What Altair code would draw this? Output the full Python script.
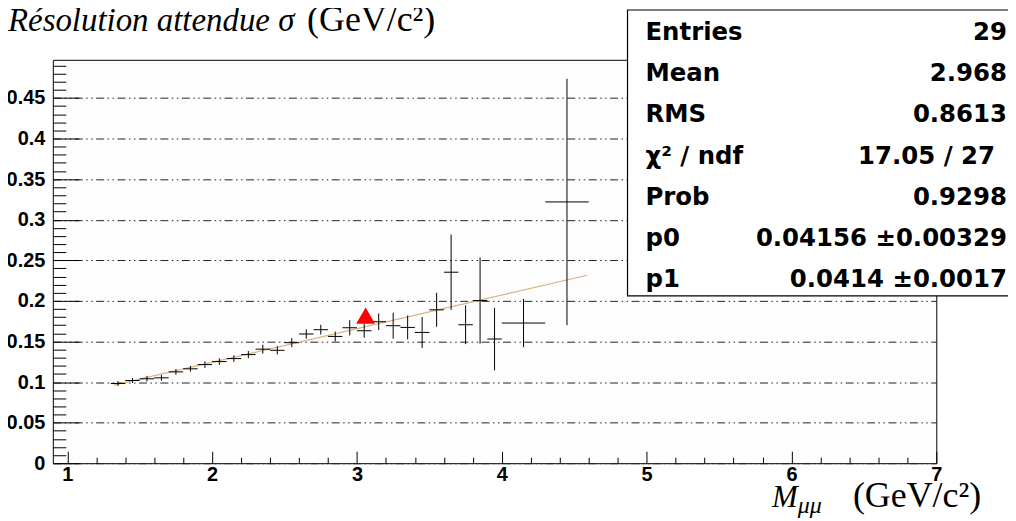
import altair as alt
import pandas as pd

# ---------------- data ----------------
x_center = [1.35, 1.45, 1.55, 1.65, 1.75, 1.85, 1.95, 2.05, 2.15, 2.25,
            2.35, 2.45, 2.55, 2.65, 2.75, 2.85, 2.95, 3.05, 3.15, 3.25,
            3.35, 3.45, 3.55, 3.65, 3.75, 3.85, 3.95, 4.15, 4.45]
x_half = [0.05, 0.05, 0.05, 0.05, 0.05, 0.05, 0.05, 0.05, 0.05, 0.05,
          0.05, 0.05, 0.05, 0.05, 0.05, 0.05, 0.05, 0.05, 0.05, 0.05,
          0.05, 0.05, 0.05, 0.05, 0.05, 0.05, 0.05, 0.15, 0.15]
y_value = [0.0982, 0.1019, 0.1040, 0.1052, 0.1125, 0.1163, 0.1215, 0.1252, 0.1289, 0.1338,
           0.1405, 0.1391, 0.1485, 0.1592, 0.1645, 0.1562, 0.1669, 0.1632, 0.1743, 0.1694,
           0.1673, 0.1611, 0.1890, 0.2353, 0.1706, 0.2004, 0.1530, 0.1727, 0.3219]
y_err = [0.0030, 0.0030, 0.0035, 0.0035, 0.0035, 0.0035, 0.0040, 0.0040, 0.0040, 0.0045,
         0.0055, 0.0050, 0.0055, 0.0057, 0.0060, 0.0060, 0.0094, 0.0086, 0.0102, 0.0160,
         0.0147, 0.0190, 0.0209, 0.0464, 0.0239, 0.0530, 0.0385, 0.0297, 0.1518]

fit_x = [1.32, 4.59]
fit_y = [0.0962, 0.2316]

marker_x = [3.06]
marker_y = [0.1819]

y_major = [0, 0.05, 0.1, 0.15, 0.2, 0.25, 0.3, 0.35, 0.4, 0.45]
y_minor = [0.01, 0.02, 0.03, 0.04, 0.06, 0.07, 0.08, 0.09, 0.11, 0.12, 0.13, 0.14,
           0.16, 0.17, 0.18, 0.19, 0.21, 0.22, 0.23, 0.24, 0.26, 0.27, 0.28, 0.29,
           0.31, 0.32, 0.33, 0.34, 0.36, 0.37, 0.38, 0.39, 0.41, 0.42, 0.43, 0.44,
           0.46, 0.47, 0.48, 0.49]
x_major = [1, 2, 3, 4, 5, 6, 7]
x_minor = [1.2, 1.4, 1.6, 1.8, 2.2, 2.4, 2.6, 2.8, 3.2, 3.4, 3.6, 3.8,
           4.2, 4.4, 4.6, 4.8, 5.2, 5.4, 5.6, 5.8, 6.2, 6.4, 6.6, 6.8]

stat_labels = ["Entries", "Mean", "RMS", "χ² / ndf", "Prob", "p0", "p1"]
stat_values = ["29", "2.968", "0.8613", "17.05 / 27", "0.9298",
               "0.04156 ±0.00329", "0.0414 ±0.0017"]

y_title_main = "Résolution attendue σ"
y_title_unit = "(GeV/c²)"
x_title_main = "M"
x_title_sub = "μμ"
x_title_unit = "(GeV/c²)"

# ---------------- layout ----------------
W, H = 887, 405
LABEL_FONT = "Liberation Sans"
SERIF = "Liberation Serif"
STAT_FONT = "DejaVu Sans"

df = pd.DataFrame({
    "x": x_center,
    "xlo": [c - h for c, h in zip(x_center, x_half)],
    "xhi": [c + h for c, h in zip(x_center, x_half)],
    "y": y_value,
    "ylo": [v - e for v, e in zip(y_value, y_err)],
    "yhi": [v + e for v, e in zip(y_value, y_err)],
})

xs = alt.Scale(domain=[0.9, 7], nice=False, zero=False)
ys = alt.Scale(domain=[0, 0.497], nice=False, zero=False)

x_axis_major = alt.Axis(values=x_major, format="~g", title=None, orient="bottom",
                        tickSize=12, offset=-12, domain=False, grid=False,
                        labelFont=LABEL_FONT, labelFontWeight="bold", labelFontSize=20,
                        labelColor="black", tickColor="black", labelPadding=1,
                        labelFlush=False, labelOverlap=False)
y_axis_major = alt.Axis(values=y_major, format="~g", title=None, orient="left",
                        tickSize=26, offset=-26, domain=False, grid=True,
                        gridColor="#222222", gridDash=[8, 3.5, 1.5, 3.5, 1.5, 3.5],
                        gridWidth=1, gridOpacity=1,
                        labelFont=LABEL_FONT, labelFontWeight="bold", labelFontSize=20,
                        labelColor="black", tickColor="black", labelPadding=8,
                        labelOverlap=False, labelFlush=False)
x_axis_minor = alt.Axis(values=x_minor, title=None, orient="bottom", labels=False,
                        tickSize=6, offset=-6, domain=False, grid=False,
                        tickColor="black")
y_axis_minor = alt.Axis(values=y_minor, title=None, orient="left", labels=False,
                        tickSize=13, offset=-13, domain=False, grid=False,
                        tickColor="black")

major_axes = alt.Chart(df).mark_point(opacity=0).encode(
    x=alt.X("x:Q", scale=xs, axis=x_axis_major),
    y=alt.Y("y:Q", scale=ys, axis=y_axis_major),
)
minor_axes = alt.Chart(df).mark_point(opacity=0).encode(
    x=alt.X("x:Q", scale=xs, axis=x_axis_minor),
    y=alt.Y("y:Q", scale=ys, axis=y_axis_minor),
)

vbars = alt.Chart(df).mark_rule(color="black", strokeWidth=1).encode(
    x=alt.X("x:Q", scale=xs, axis=None),
    y=alt.Y("ylo:Q", scale=ys, axis=None),
    y2="yhi:Q",
)
hbars = alt.Chart(df).mark_rule(color="black", strokeWidth=1).encode(
    x=alt.X("xlo:Q", scale=xs, axis=None),
    x2="xhi:Q",
    y=alt.Y("y:Q", scale=ys, axis=None),
)

fit = alt.Chart(pd.DataFrame({"x": fit_x, "y": fit_y})).mark_line(
    color="#d9b383", strokeWidth=1.2
).encode(
    x=alt.X("x:Q", scale=xs, axis=None),
    y=alt.Y("y:Q", scale=ys, axis=None),
)

marker = alt.Chart(pd.DataFrame({"x": marker_x, "y": marker_y})).mark_point(
    shape="triangle-up", filled=True, color="#ff0000", size=360, opacity=1
).encode(
    x=alt.X("x:Q", scale=xs, axis=None),
    y=alt.Y("y:Q", scale=ys, axis=None),
)

one = pd.DataFrame({"a": [0]})

stats_box = alt.Chart(one).mark_rect(
    fill="white", stroke="black", strokeWidth=1.2
).encode(
    x=alt.value(577), x2=alt.value(990), y=alt.value(-50), y2=alt.value(237)
)

layers = [major_axes, minor_axes, fit, vbars, hbars, marker, stats_box]

row_base = [-19.7, 21.6, 62.9, 104.2, 145.5, 186.8, 228.1]
val_right = [958, 958, 958, 946, 958, 958, 958]
for lab, val, b, r in zip(stat_labels, stat_values, row_base, val_right):
    layers.append(
        alt.Chart(pd.DataFrame({"t": [lab]})).mark_text(
            align="left", baseline="alphabetic", font=STAT_FONT, fontWeight="bold",
            fontSize=24.5, color="black"
        ).encode(x=alt.value(595), y=alt.value(b), text="t:N")
    )
    layers.append(
        alt.Chart(pd.DataFrame({"t": [val]})).mark_text(
            align="right", baseline="alphabetic", font=STAT_FONT, fontWeight="bold",
            fontSize=24.5, color="black"
        ).encode(x=alt.value(r), y=alt.value(b), text="t:N")
    )

# y title (top left)
layers.append(
    alt.Chart(pd.DataFrame({"t": [y_title_main]})).mark_text(
        align="left", baseline="alphabetic", font=SERIF, fontStyle="italic",
        fontSize=33, color="black"
    ).encode(x=alt.value(-45), y=alt.value(-29), text="t:N")
)
layers.append(
    alt.Chart(pd.DataFrame({"t": [y_title_unit]})).mark_text(
        align="right", baseline="alphabetic", font=SERIF,
        fontSize=36, color="black"
    ).encode(x=alt.value(384), y=alt.value(-29), text="t:N")
)
# x title (bottom right)
layers.append(
    alt.Chart(pd.DataFrame({"t": [x_title_main]})).mark_text(
        align="left", baseline="alphabetic", font=SERIF, fontStyle="italic",
        fontSize=31, color="black"
    ).encode(x=alt.value(722), y=alt.value(449), text="t:N")
)
layers.append(
    alt.Chart(pd.DataFrame({"t": [x_title_sub]})).mark_text(
        align="left", baseline="alphabetic", font=SERIF, fontStyle="italic",
        fontSize=24, color="black"
    ).encode(x=alt.value(748), y=alt.value(455), text="t:N")
)
layers.append(
    alt.Chart(pd.DataFrame({"t": [x_title_unit]})).mark_text(
        align="right", baseline="alphabetic", font=SERIF,
        fontSize=36, color="black"
    ).encode(x=alt.value(932), y=alt.value(449), text="t:N")
)

chart = alt.layer(*layers).resolve_axis(
    x="independent", y="independent"
).properties(
    width=W, height=H,
    autosize=alt.AutoSizeParams(type="none"),
    padding={"left": 45, "top": 51, "right": 72, "bottom": 57},
    background="white",
).configure_view(
    fill="#fdfdfd", stroke="black", strokeWidth=1
)

chart.save("out.html", embed_options={"renderer": "svg", "actions": False})
